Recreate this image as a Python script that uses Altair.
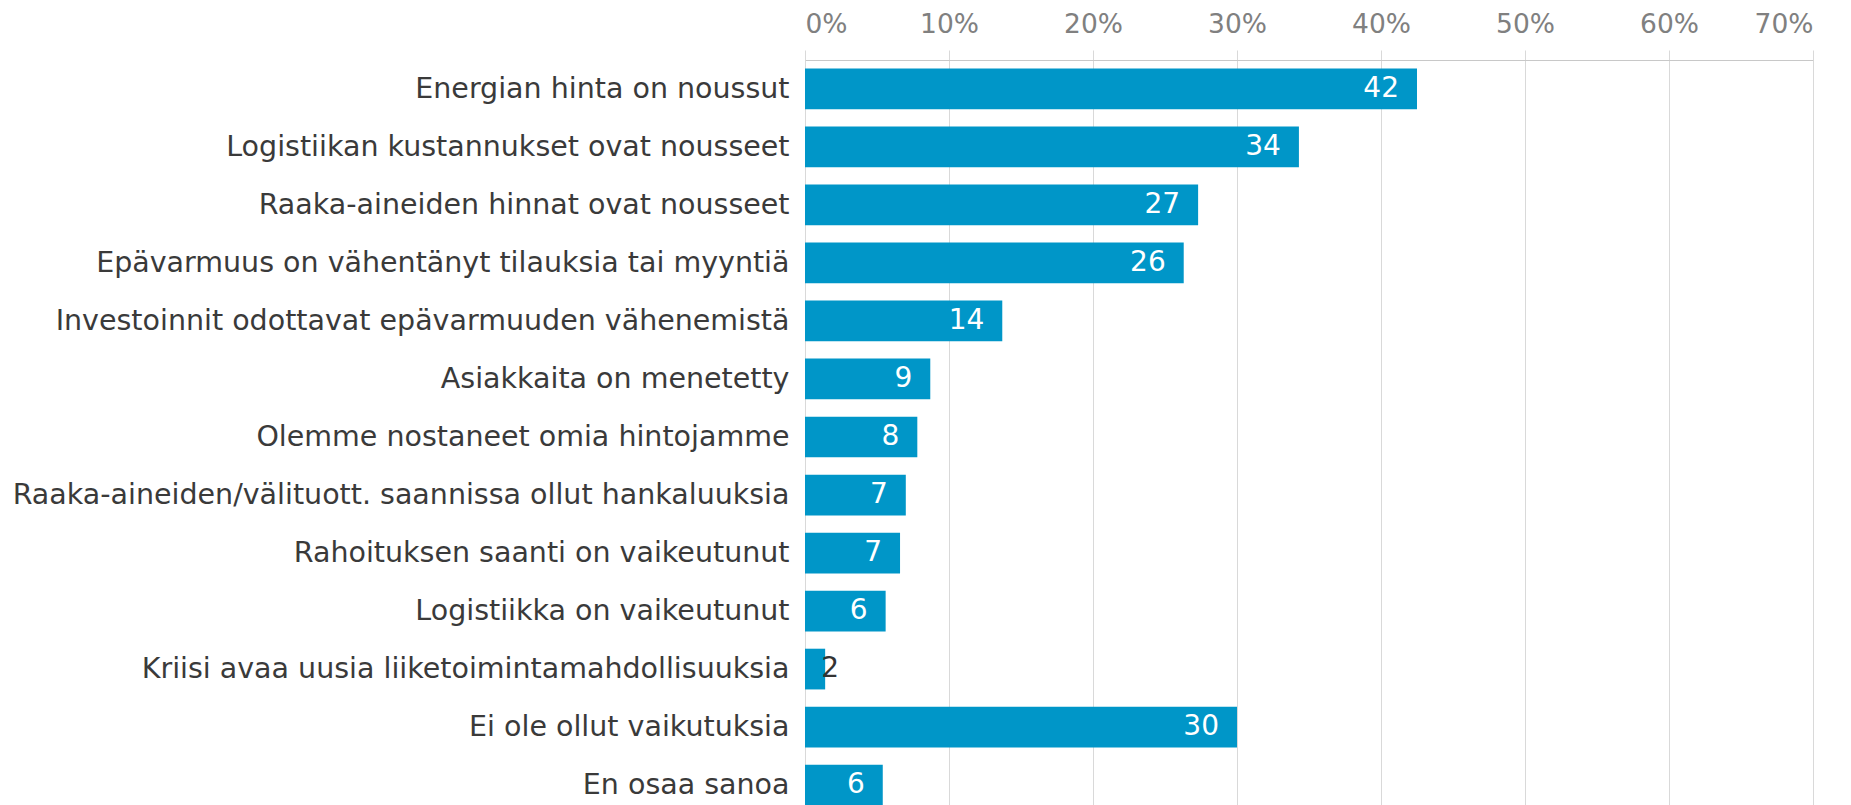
import altair as alt
import pandas as pd

categories = [
    "Energian hinta on noussut",
    "Logistiikan kustannukset ovat nousseet",
    "Raaka-aineiden hinnat ovat nousseet",
    "Epävarmuus on vähentänyt tilauksia tai myyntiä",
    "Investoinnit odottavat epävarmuuden vähenemistä",
    "Asiakkaita on menetetty",
    "Olemme nostaneet omia hintojamme",
    "Raaka-aineiden/välituott. saannissa ollut hankaluuksia",
    "Rahoituksen saanti on vaikeutunut",
    "Logistiikka on vaikeutunut",
    "Kriisi avaa uusia liiketoimintamahdollisuuksia",
    "Ei ole ollut vaikutuksia",
    "En osaa sanoa",
]
values = [42.5, 34.3, 27.3, 26.3, 13.7, 8.7, 7.8, 7.0, 6.6, 5.6, 1.4, 30.0, 5.4]
labels = ["42", "34", "27", "26", "14", "9", "8", "7", "7", "6", "2", "30", "6"]

df = pd.DataFrame({"cat": categories, "val": values, "lab": labels})
df["small"] = df["val"] < 3

FONT = "DejaVu Sans"

y = alt.Y(
    "cat:N",
    sort=categories,
    title=None,
    scale=alt.Scale(paddingInner=0.298, paddingOuter=0.147),
    axis=alt.Axis(
        domain=False,
        ticks=False,
        labelFont=FONT,
        labelFontSize=28.5,
        labelColor="#3a3a3a",
        labelPadding=16,
        labelLimit=900,
    ),
)
x = alt.X(
    "val:Q",
    title=None,
    scale=alt.Scale(domain=[0, 70], nice=False),
    axis=alt.Axis(
        orient="top",
        values=[0, 10, 20, 30, 40, 50, 60, 70],
        labelExpr="datum.value + '%'",
        labelFont=FONT,
        labelFontSize=26.5,
        labelColor="#808080",
        labelPadding=12,
        tickSize=10,
        tickColor="#d9d9d9",
        domainColor="#c8c8c8",
        gridColor="#d9d9d9",
        gridWidth=1,
    ),
)

bars = alt.Chart(df).mark_bar(color="#0096C8").encode(x=x, y=y)

text_in = alt.Chart(df).transform_filter("!datum.small").mark_text(
    align="right", baseline="middle", dx=-18, font=FONT, fontSize=28, color="white"
).encode(x="val:Q", y=alt.Y("cat:N", sort=categories), text="lab:N")

text_out = alt.Chart(df).transform_filter("datum.small").mark_text(
    align="left", baseline="middle", dx=-4, font=FONT, fontSize=28, color="#333333"
).encode(x="val:Q", y=alt.Y("cat:N", sort=categories), text="lab:N")

chart = (
    alt.layer(bars, text_in, text_out)
    .properties(
        width=1008,
        height=754,
        autosize=alt.AutoSizeParams(type="none"),
        padding={"left": 797, "top": 52, "right": 30, "bottom": 0},
    )
    .configure_view(stroke=None)
    .configure_axis(grid=True)
    .configure_axisY(grid=False)
)

chart.save("out.html", embed_options={"renderer": "svg", "actions": False})
